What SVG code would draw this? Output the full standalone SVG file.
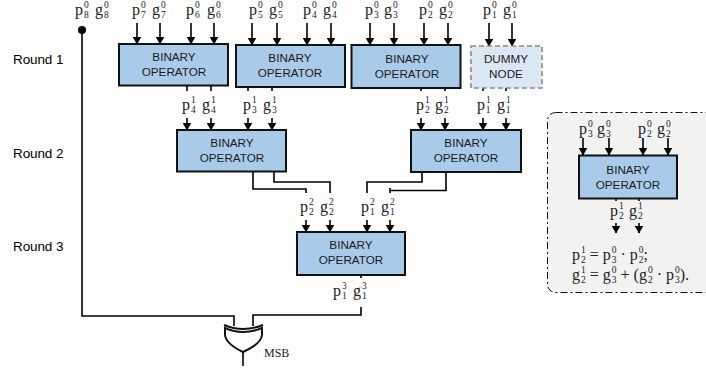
<svg xmlns="http://www.w3.org/2000/svg" width="706" height="370" viewBox="0 0 706 370">
<defs>
<marker id="ah" viewBox="0 0 8 9" refX="7.500" refY="4.500" markerWidth="8" markerHeight="9" markerUnits="userSpaceOnUse" orient="auto-start-reverse"><path d="M0 0L8 4.500L0 9z" fill="#000" transform="translate(0 0)"/></marker>
</defs>
<style>
text{font-family:"Liberation Sans",Arial,sans-serif;font-size:11.7px;fill:#1a1a1a;text-anchor:middle}
.r{font-size:13.500px;text-anchor:start;fill:#000;letter-spacing:-.1px}
.m{font-family:"Liberation Serif","DejaVu Serif",serif;font-size:16px;text-anchor:start;fill:#222}
.m tspan{font-size:9.500px}
.m tspan.b{font-size:16px}
.box{fill:#a9cbe9;stroke:#111;stroke-width:2}
.dm{fill:#dce7f4;stroke:#8a8a8a;stroke-width:1.600;stroke-dasharray:5 3}
.ar{stroke:#000;stroke-width:1.600;fill:none;marker-end:url(#ah)}
.ln{stroke:#000;stroke-width:1.600;fill:none}
</style>
<text class="r" x="13" y="64">Round 1</text>
<text class="r" x="13" y="157.500">Round 2</text>
<text class="r" x="13" y="251">Round 3</text>

<g id="inset">
<rect x="547.500" y="112.500" width="175" height="180" rx="8" fill="#f2f2f2" stroke="#111" stroke-width="1" stroke-dasharray="7 3 2 3"/>
</g>

<g id="connectors">
<path class="ar" d="M137 23V44"/><path class="ar" d="M160 23V44"/><path class="ar" d="M191 23V44"/><path class="ar" d="M214 23V44"/>
<path class="ar" d="M252 23V45"/><path class="ar" d="M277 23V45"/><path class="ar" d="M307 23V45"/><path class="ar" d="M331 23V45"/>
<path class="ar" d="M370 23V45"/><path class="ar" d="M394 23V45"/><path class="ar" d="M424 23V45"/><path class="ar" d="M448 23V45"/>
<path class="ar" d="M489 23V46"/><path class="ar" d="M512 23V46"/>
<path class="ln" d="M187 86V91M211 86V91M248 87V91M272 87V91M421 88V91M445 88V91M483 88V91M506 88V91"/>
<path class="ar" d="M187 118V130"/><path class="ar" d="M211 118V130"/><path class="ar" d="M248 118V130"/><path class="ar" d="M272 118V130"/>
<path class="ar" d="M421 118V130"/><path class="ar" d="M445 118V130"/><path class="ar" d="M483 118V130"/><path class="ar" d="M506 118V130"/>
<path class="ln" d="M253 172V189H306V193M274 172V182H330V193M422 172V182H367V193M446 172V190.500H390M390 188V193"/>
<path class="ar" d="M306 220V232"/><path class="ar" d="M330 220V232"/><path class="ar" d="M367 220V232"/><path class="ar" d="M390 220V232"/>
<path class="ln" d="M361 275V278M361 307V315H253V326M234 326V316H82V30"/>
<circle cx="82" cy="30" r="4" fill="#000"/>
<path class="ar" d="M583 138V155"/><path class="ar" d="M609 138V155"/><path class="ar" d="M643 138V155"/><path class="ar" d="M668 138V155"/>
<path class="ln" d="M616 198V201M639 198V201"/>
<path class="ar" d="M616 223V233"/><path class="ar" d="M639 223V233"/>
</g>

<g id="n1"><rect class="box" x="119" y="44" width="109" height="41.500"/><text x="174" y="61">BINARY</text><text x="174" y="76">OPERATOR</text></g>
<g id="n2"><rect class="box" x="236" y="45" width="109" height="42"/><text x="290" y="62">BINARY</text><text x="290" y="77">OPERATOR</text></g>
<g id="n3"><rect class="box" x="351.500" y="45" width="109" height="43"/><text x="407" y="63">BINARY</text><text x="407" y="78">OPERATOR</text></g>
<g id="n4"><rect class="dm" x="471" y="46" width="71" height="42"/><text x="506" y="63">DUMMY</text><text x="506" y="78">NODE</text></g>
<g id="n5"><rect class="box" x="177" y="130" width="109" height="41.500"/><text x="232" y="147">BINARY</text><text x="232" y="162">OPERATOR</text></g>
<g id="n6"><rect class="box" x="411" y="130" width="110" height="42"/><text x="466" y="147">BINARY</text><text x="466" y="162">OPERATOR</text></g>
<g id="n7"><rect class="box" x="297" y="232" width="108" height="43"/><text x="351" y="249">BINARY</text><text x="351" y="264">OPERATOR</text></g>
<g id="n8"><rect class="box" x="579" y="155.500" width="98" height="43"/><text x="628" y="174">BINARY</text><text x="628" y="189">OPERATOR</text></g>

<g id="xor">
<path d="M224 325Q243 333 263 325" fill="none" stroke="#111" stroke-width="2"/>
<path d="M225 328Q243 336 262 328V335Q261 344 243 352Q226 344 225 335Z" fill="#fff" stroke="#111" stroke-width="2"/>
<path class="ln" d="M243 352V366"/>
<text class="m" style="font-size:12px" x="264" y="357">MSB</text>
</g>

<g id="labels">
<text class="m" x="75" y="15">p<tspan dx="1" dy="-7">0</tspan><tspan dx="-4.750" dy="10">8</tspan></text><text class="m" x="95" y="15">g<tspan dx="1" dy="-7">0</tspan><tspan dx="-4.750" dy="10">8</tspan></text>
<text class="m" x="132" y="15">p<tspan dx="1" dy="-7">0</tspan><tspan dx="-4.750" dy="10">7</tspan></text><text class="m" x="152" y="15">g<tspan dx="1" dy="-7">0</tspan><tspan dx="-4.750" dy="10">7</tspan></text>
<text class="m" x="186" y="15">p<tspan dx="1" dy="-7">0</tspan><tspan dx="-4.750" dy="10">6</tspan></text><text class="m" x="207" y="15">g<tspan dx="1" dy="-7">0</tspan><tspan dx="-4.750" dy="10">6</tspan></text>
<text class="m" x="249" y="15">p<tspan dx="1" dy="-7">0</tspan><tspan dx="-4.750" dy="10">5</tspan></text><text class="m" x="269" y="15">g<tspan dx="1" dy="-7">0</tspan><tspan dx="-4.750" dy="10">5</tspan></text>
<text class="m" x="303" y="15">p<tspan dx="1" dy="-7">0</tspan><tspan dx="-4.750" dy="10">4</tspan></text><text class="m" x="323" y="15">g<tspan dx="1" dy="-7">0</tspan><tspan dx="-4.750" dy="10">4</tspan></text>
<text class="m" x="365" y="15">p<tspan dx="1" dy="-7">0</tspan><tspan dx="-4.750" dy="10">3</tspan></text><text class="m" x="384" y="15">g<tspan dx="1" dy="-7">0</tspan><tspan dx="-4.750" dy="10">3</tspan></text>
<text class="m" x="419" y="15">p<tspan dx="1" dy="-7">0</tspan><tspan dx="-4.750" dy="10">2</tspan></text><text class="m" x="439" y="15">g<tspan dx="1" dy="-7">0</tspan><tspan dx="-4.750" dy="10">2</tspan></text>
<text class="m" x="483" y="15">p<tspan dx="1" dy="-7">0</tspan><tspan dx="-4.750" dy="10">1</tspan></text><text class="m" x="503" y="15">g<tspan dx="1" dy="-7">0</tspan><tspan dx="-4.750" dy="10">1</tspan></text>

<text class="m" x="182" y="109.500">p<tspan dx="1" dy="-7">1</tspan><tspan dx="-4.750" dy="10">4</tspan></text><text class="m" x="202" y="109.500">g<tspan dx="1" dy="-7">1</tspan><tspan dx="-4.750" dy="10">4</tspan></text>
<text class="m" x="243" y="109.500">p<tspan dx="1" dy="-7">1</tspan><tspan dx="-4.750" dy="10">3</tspan></text><text class="m" x="263" y="109.500">g<tspan dx="1" dy="-7">1</tspan><tspan dx="-4.750" dy="10">3</tspan></text>
<text class="m" x="416" y="109.500">p<tspan dx="1" dy="-7">1</tspan><tspan dx="-4.750" dy="10">2</tspan></text><text class="m" x="435" y="109.500">g<tspan dx="1" dy="-7">1</tspan><tspan dx="-4.750" dy="10">2</tspan></text>
<text class="m" x="477" y="109.500">p<tspan dx="1" dy="-7">1</tspan><tspan dx="-4.750" dy="10">1</tspan></text><text class="m" x="497" y="109.500">g<tspan dx="1" dy="-7">1</tspan><tspan dx="-4.750" dy="10">1</tspan></text>

<text class="m" x="300" y="212">p<tspan dx="1" dy="-7">2</tspan><tspan dx="-4.750" dy="10">2</tspan></text><text class="m" x="320" y="212">g<tspan dx="1" dy="-7">2</tspan><tspan dx="-4.750" dy="10">2</tspan></text>
<text class="m" x="361" y="212">p<tspan dx="1" dy="-7">2</tspan><tspan dx="-4.750" dy="10">1</tspan></text><text class="m" x="381" y="212">g<tspan dx="1" dy="-7">2</tspan><tspan dx="-4.750" dy="10">1</tspan></text>

<text class="m" x="333" y="296">p<tspan dx="1" dy="-7">3</tspan><tspan dx="-4.750" dy="10">1</tspan></text><text class="m" x="353" y="296">g<tspan dx="1" dy="-7">3</tspan><tspan dx="-4.750" dy="10">1</tspan></text>

<text class="m" x="579" y="133.500">p<tspan dx="1" dy="-7">0</tspan><tspan dx="-4.750" dy="10">3</tspan></text><text class="m" x="597" y="133.500">g<tspan dx="1" dy="-7">0</tspan><tspan dx="-4.750" dy="10">3</tspan></text>
<text class="m" x="638" y="133.500">p<tspan dx="1" dy="-7">0</tspan><tspan dx="-4.750" dy="10">2</tspan></text><text class="m" x="657" y="133.500">g<tspan dx="1" dy="-7">0</tspan><tspan dx="-4.750" dy="10">2</tspan></text>
<text class="m" x="610" y="216">p<tspan dx="1" dy="-7">1</tspan><tspan dx="-4.750" dy="10">2</tspan></text><text class="m" x="629" y="216">g<tspan dx="1" dy="-7">1</tspan><tspan dx="-4.750" dy="10">2</tspan></text>

<text class="m" x="572" y="260">p<tspan dx="1" dy="-7">1</tspan><tspan dx="-4.750" dy="10">2</tspan><tspan class="b" dy="-3"> = p</tspan><tspan dx="1" dy="-7">0</tspan><tspan dx="-4.750" dy="10">3</tspan><tspan class="b" dy="-3"> · p</tspan><tspan dx="1" dy="-7">0</tspan><tspan dx="-4.750" dy="10">2</tspan><tspan class="b" dy="-3">;</tspan></text>
<text class="m" x="572" y="280">g<tspan dx="1" dy="-7">1</tspan><tspan dx="-4.750" dy="10">2</tspan><tspan class="b" dy="-3"> = g</tspan><tspan dx="1" dy="-7">0</tspan><tspan dx="-4.750" dy="10">3</tspan><tspan class="b" dy="-3"> + (g</tspan><tspan dx="1" dy="-7">0</tspan><tspan dx="-4.750" dy="10">2</tspan><tspan class="b" dy="-3"> · p</tspan><tspan dx="1" dy="-7">0</tspan><tspan dx="-4.750" dy="10">3</tspan><tspan class="b" dy="-3">).</tspan></text>
</g>
</svg>
